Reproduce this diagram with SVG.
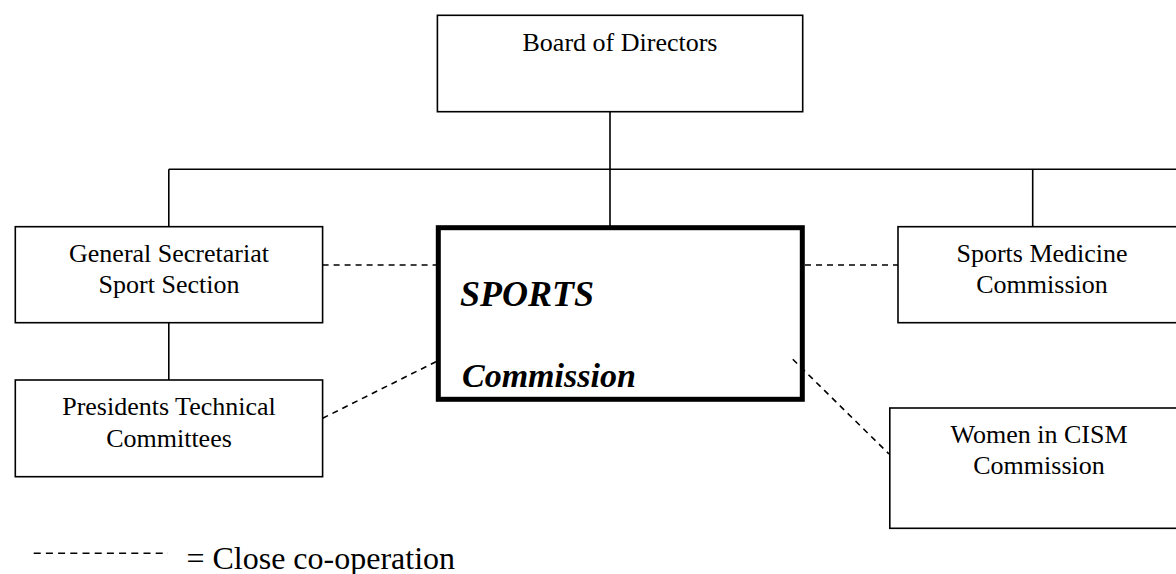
<svg xmlns="http://www.w3.org/2000/svg" width="1176" height="574" viewBox="0 0 1176 574">
<style>
.box{fill:#fff;stroke:#000;stroke-width:1.6}
.main{fill:#fff;stroke:#000;stroke-width:5}
.t{font-family:"Liberation Serif","Times New Roman",serif;font-size:26px;fill:#000;text-anchor:middle}
.big{font-family:"Liberation Serif","Times New Roman",serif;font-weight:bold;font-style:italic;fill:#000}
.solid{fill:none;stroke:#000;stroke-width:1.6}
.dash{fill:none;stroke:#000;stroke-width:1.6;stroke-dasharray:6 5}
</style>
<rect width="1176" height="574" fill="#fff"/>
<g id="board"><rect class="box" x="437.4" y="15.3" width="365.3" height="96.4"/><text class="t" x="620" y="50.7">Board of Directors</text></g>
<g id="gensec"><rect class="box" x="15.3" y="226.7" width="307.3" height="96"/><text class="t" x="169" y="261.7">General Secretariat</text><text class="t" x="169" y="292.7">Sport Section</text></g>
<g id="presidents"><rect class="box" x="15.3" y="380" width="307.3" height="96.7"/><text class="t" x="169" y="415">Presidents Technical</text><text class="t" x="169" y="446.7">Committees</text></g>
<g id="sports"><rect class="main" x="438.3" y="227.7" width="364" height="171.6"/><text class="big" x="460" y="305.7" font-size="36">SPORTS</text><text class="big" x="462" y="386.5" font-size="34">Commission</text></g>
<g id="sportsmed"><rect class="box" x="898" y="226.7" width="290" height="96"/><text class="t" x="1042" y="261.7">Sports Medicine</text><text class="t" x="1042" y="292.7">Commission</text></g>
<g id="women"><rect class="box" x="889.8" y="408" width="300" height="120.3"/><text class="t" x="1039" y="443.3">Women in CISM</text><text class="t" x="1039" y="474.3">Commission</text></g>
<g id="connectors">
<path class="solid" d="M610 111.7V226M168.8 169.3H1180M168.8 169.3V226.7M1032.7 169.3V226.7M168.8 322.7V380"/>
<path class="dash" d="M322.6 265H436M805 265H898M322.6 418.3L436 361.7M792.8 359.3L889 454"/>
</g>
<g id="legend"><path class="dash" d="M33.7 553.3H168" style="stroke-dasharray:7 5.2"/><text x="186.4" y="569.3" font-family="Liberation Serif,'Times New Roman',serif" font-size="32" fill="#000">= Close co-operation</text></g>
</svg>
